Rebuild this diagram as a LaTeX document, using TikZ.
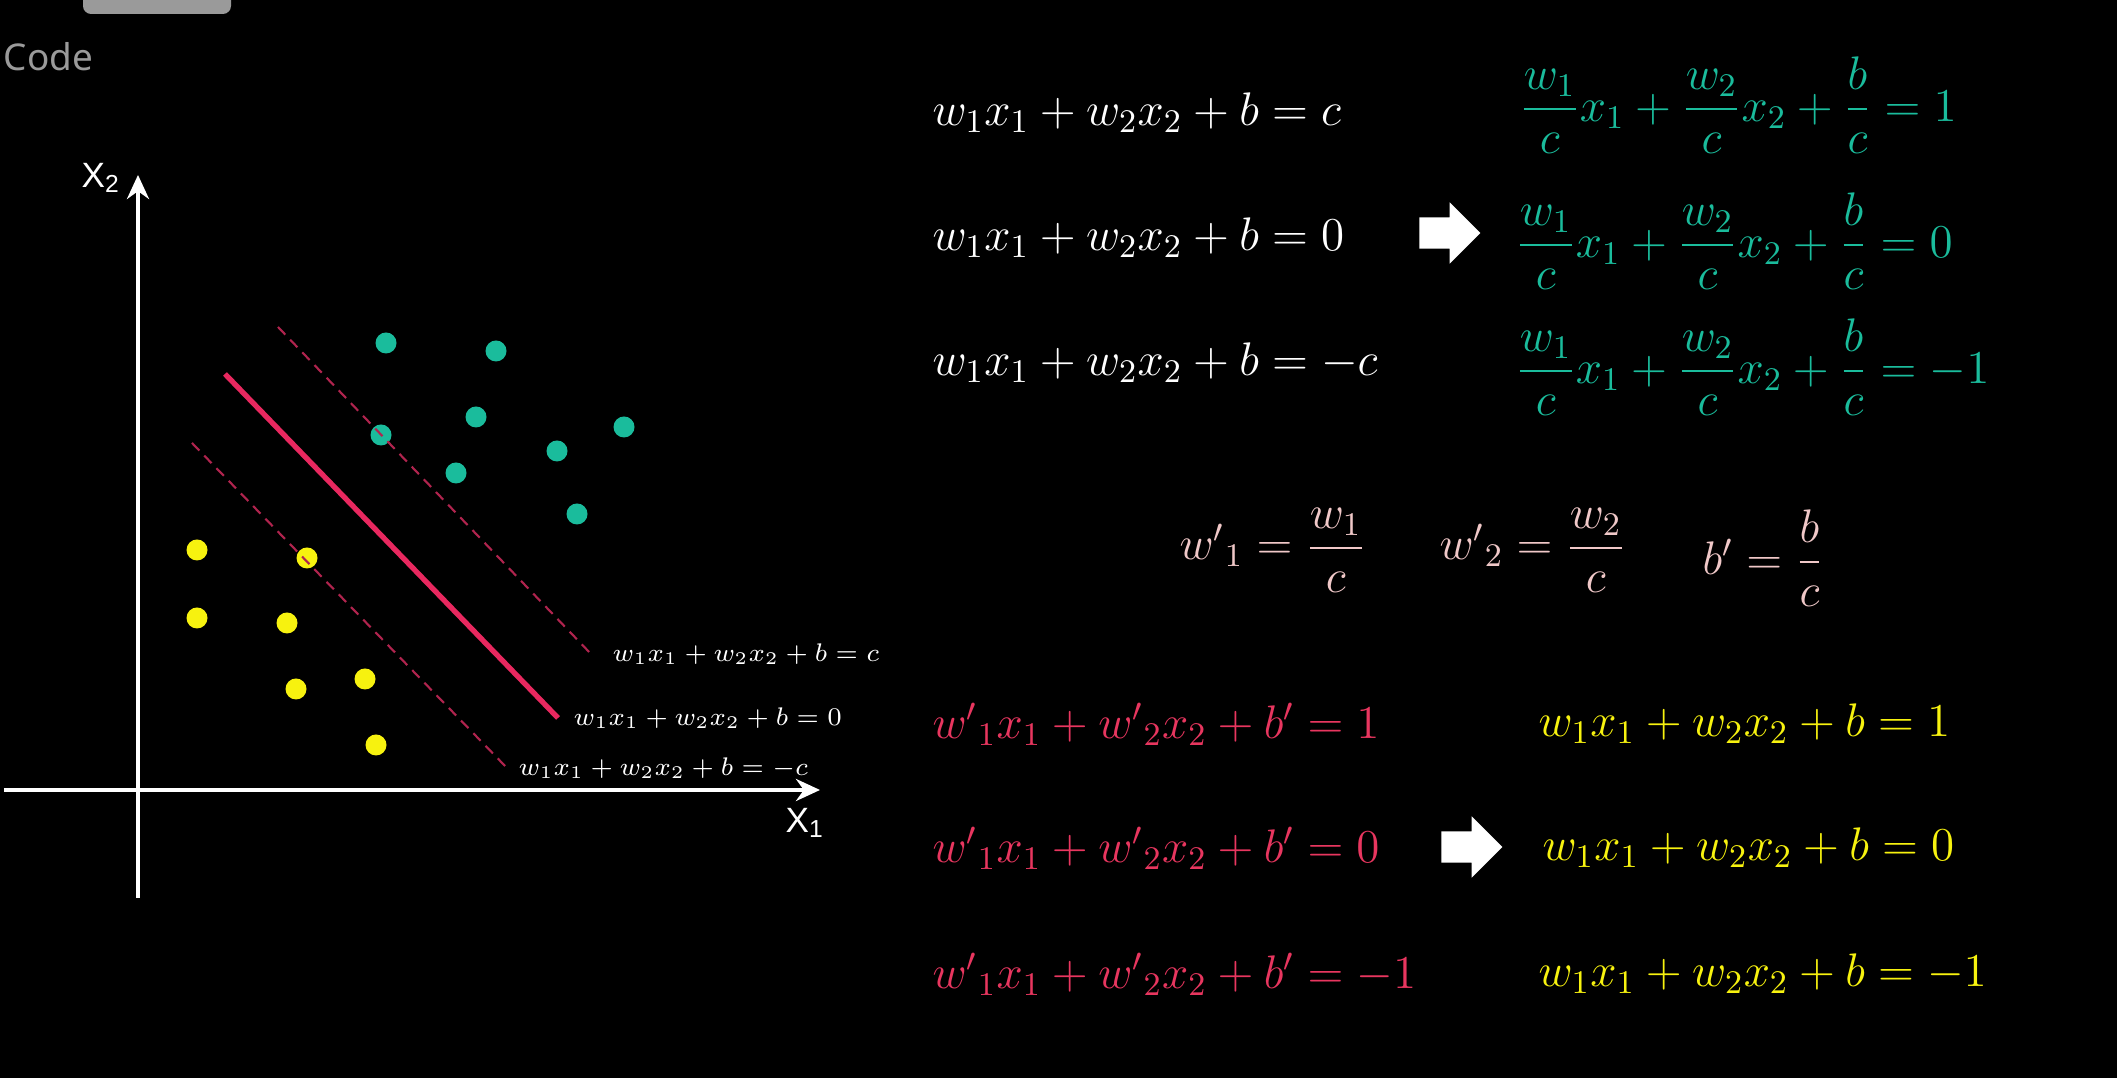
\RequirePackage{fix-cm}
\documentclass[tikz,border=0pt]{standalone}
\usepackage{amsmath,amssymb}
\usepackage{fontspec}
\usepackage{tikz}
\usetikzlibrary{arrows.meta,positioning,calc,shapes.arrows}
\newfontfamily\axisfont{Liberation Sans}
\newfontfamily\uifont{Noto Sans}
\definecolor{posclass}{HTML}{1ABC9C}
\definecolor{negclass}{HTML}{F7F20F}
\definecolor{hyper}{HTML}{E8285F}
\definecolor{margin}{HTML}{B0244E}
\definecolor{scaled}{HTML}{F0C8C8}
\definecolor{hypertext}{HTML}{E8365F}
\definecolor{uigray}{HTML}{9A9A9A}

\begin{document}
\begin{tikzpicture}[
    every node/.style={text=white},
    eq/.style={font=\fontsize{13.4}{16}\selectfont,anchor=west,inner sep=0pt},
    lbl/.style={font=\fontsize{7.25}{9}\selectfont,anchor=west,inner sep=0pt},
    axlbl/.style={font=\axisfont\fontsize{10}{12}\selectfont,inner sep=0pt},
    ax/.style={-{Stealth[length=2.4mm,width=2.2mm]},white,line width=1.1pt},
    posdot/.style={circle,fill=posclass,minimum size=0.21cm,inner sep=0pt},
    negdot/.style={circle,fill=negclass,minimum size=0.21cm,inner sep=0pt},
    marginline/.style={margin,line width=0.6pt,dash pattern=on 3pt off 2pt},
    bigarrow/.style={single arrow,fill=white,inner xsep=0pt,inner ysep=0.15cm,
        minimum width=0pt,minimum height=0.61cm,single arrow head extend=0.15cm}
]
\fill[black] (0,0) rectangle (21.17,10.78);
\useasboundingbox (0,0) rectangle (21.17,10.78);

% player overlay
\fill[uigray,rounded corners=0.08cm] (0.83,10.64) rectangle (2.31,11.2);
\node[font=\uifont\fontsize{10.5}{12}\selectfont,text=uigray,anchor=west,inner sep=0pt] (code) at (0.03,10.21) {Code};

% axes
\coordinate (xl) at (0.04,2.88);
\coordinate (xr) at (8.20,2.88);
\coordinate (yb) at (1.38,1.80);
\coordinate (yt) at (1.38,9.03);
\draw[ax] (xl) -- (xr);
\draw[ax] (yb) -- (yt);
\node[axlbl] (x2) at (1.01,9.00) {X\textsubscript{2}};
\node[axlbl] (x1) at (8.05,2.55) {X\textsubscript{1}};

% samples
\node[posdot] (p1) at (3.86,7.35) {};
\node[posdot] (p2) at (4.96,7.27) {};
\node[posdot] (p3) at (4.76,6.61) {};
\node[posdot] (p4) at (6.24,6.51) {};
\node[posdot] (p5) at (3.81,6.43) {};
\node[posdot] (p6) at (5.57,6.27) {};
\node[posdot] (p7) at (4.56,6.05) {};
\node[posdot] (p8) at (5.77,5.64) {};
\node[negdot] (n1) at (1.97,5.28) {};
\node[negdot] (n2) at (3.07,5.20) {};
\node[negdot] (n3) at (1.97,4.60) {};
\node[negdot] (n4) at (2.87,4.55) {};
\node[negdot] (n5) at (3.65,3.99) {};
\node[negdot] (n6) at (2.96,3.89) {};
\node[negdot] (n7) at (3.76,3.33) {};

% separating line and margins
\coordinate (u0) at (2.78,7.51);
\coordinate (u1) at (5.91,4.24);
\coordinate (h0) at (2.25,7.04);
\coordinate (h1) at (5.58,3.60);
\coordinate (l0) at (1.92,6.35);
\coordinate (l1) at (5.07,3.10);
\draw[marginline] (u0) -- (u1);
\draw[marginline] (l0) -- (l1);
\draw[hyper,line width=1.5pt] (h0) -- (h1);
\node[lbl,right=0.21cm of u1] (lu) {$w_1x_1+w_2x_2+b=c$};
\node[lbl,right=0.15cm of h1] (lh) {$w_1x_1+w_2x_2+b=0$};
\node[lbl,right=0.11cm of l1] (ll) {$w_1x_1+w_2x_2+b=-c$};

% original planes
\node[eq] (e1) at (9.32,9.65) {$w_1x_1+w_2x_2+b=c$};
\node[eq] (e2) at (9.32,8.40) {$w_1x_1+w_2x_2+b=0$};
\node[eq] (e3) at (9.32,7.15) {$w_1x_1+w_2x_2+b=-c$};
\node[bigarrow] (a1) at (14.42,8.45) {};
\node[eq,text=posclass] (f1) at (15.19,9.73) {$\dfrac{w_1}{c}x_1+\dfrac{w_2}{c}x_2+\dfrac{b}{c}=1$};
\node[eq,text=posclass] (f2) at (15.15,8.37) {$\dfrac{w_1}{c}x_1+\dfrac{w_2}{c}x_2+\dfrac{b}{c}=0$};
\node[eq,text=posclass] (f3) at (15.15,7.11) {$\dfrac{w_1}{c}x_1+\dfrac{w_2}{c}x_2+\dfrac{b}{c}=-1$};

% rescaled parameters
\node[eq,text=scaled] (s1) at (11.79,5.28) {${w'}_1=\dfrac{w_1}{c}$};
\node[eq,text=scaled] (s2) at (14.39,5.28) {${w'}_2=\dfrac{w_2}{c}$};
\node[eq,text=scaled] (s3) at (17.02,5.20) {$b'=\dfrac{b}{c}$};

% rescaled planes
\node[eq,text=hypertext] (r1) at (9.32,3.54) {${w'}_1x_1+{w'}_2x_2+b'=1$};
\node[eq,text=hypertext] (r2) at (9.32,2.30) {${w'}_1x_1+{w'}_2x_2+b'=0$};
\node[eq,text=hypertext] (r3) at (9.32,1.04) {${w'}_1x_1+{w'}_2x_2+b'=-1$};
\node[bigarrow] (a2) at (14.64,2.31) {};
\node[eq,text=negclass] (y1) at (15.38,3.54) {$w_1x_1+w_2x_2+b=1$};
\node[eq,text=negclass] (y2) at (15.42,2.30) {$w_1x_1+w_2x_2+b=0$};
\node[eq,text=negclass] (y3) at (15.38,1.04) {$w_1x_1+w_2x_2+b=-1$};
\end{tikzpicture}
\end{document}
